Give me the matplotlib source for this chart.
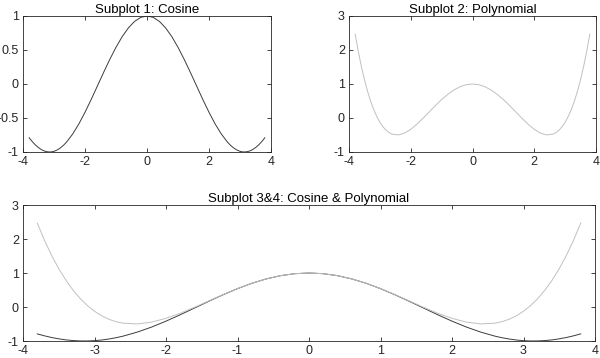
import matplotlib
matplotlib.use("Agg")
import matplotlib.pyplot as plt

# values (finer steps near the ends)
x_vals = [-3.8, -3.7, -3.6, -3.5, -3.4, -3.3, -3.2, -3.1, -3.0, -2.9, -2.8, -2.7, -2.6,
          -2.4, -2.2, -2.0, -1.8, -1.6, -1.4, -1.2, -1.0, -0.8, -0.6, -0.4, -0.2, 0.0,
          0.2, 0.4, 0.6, 0.8, 1.0, 1.2, 1.4, 1.6, 1.8, 2.0, 2.2, 2.4,
          2.6, 2.7, 2.8, 2.9, 3.0, 3.1, 3.2, 3.3, 3.4, 3.5, 3.6, 3.7, 3.8]
cosine_vals = [-0.791, -0.848, -0.897, -0.936, -0.967, -0.987, -0.998, -0.999, -0.990, -0.971, -0.942, -0.904, -0.857,
               -0.737, -0.589, -0.416, -0.227, -0.029, 0.170, 0.362, 0.540, 0.697, 0.825, 0.921, 0.980, 1.000,
               0.980, 0.921, 0.825, 0.697, 0.540, 0.362, 0.170, -0.029, -0.227, -0.416, -0.589, -0.737,
               -0.857, -0.904, -0.942, -0.971, -0.990, -0.999, -0.998, -0.987, -0.967, -0.936, -0.897, -0.848, -0.791]
poly_vals = [2.468, 1.964, 1.518, 1.128, 0.788, 0.496, 0.249, 0.043, -0.125, -0.258, -0.359, -0.431, -0.476,
             -0.498, -0.444, -0.333, -0.183, -0.007, 0.180, 0.366, 0.542, 0.697, 0.825, 0.921, 0.980, 1.000,
             0.980, 0.921, 0.825, 0.697, 0.542, 0.366, 0.180, -0.007, -0.183, -0.333, -0.444, -0.498,
             -0.476, -0.431, -0.359, -0.258, -0.125, 0.043, 0.249, 0.496, 0.788, 1.128, 1.518, 1.964, 2.468]

titles = ["Subplot 1: Cosine", "Subplot 2: Polynomial", "Subplot 3&4: Cosine & Polynomial"]

COS_COLOR = "#3c3c3c"
POLY_COLOR = "#c0c0c0"

plt.rcParams["font.family"] = ["Liberation Sans", "DejaVu Sans"]
plt.rcParams["font.size"] = 9

W, H = 600, 358
fig = plt.figure(figsize=(W / 100, H / 100), dpi=100)


def add_axes(left, top, right, bottom):
    return fig.add_axes([left / W, 1 - bottom / H, (right - left) / W, (bottom - top) / H])


def style(ax, title, yticks, ylabels, xticks):
    ax.set_title(title, fontsize=9.5, pad=2)
    ax.set_xlim(-4, 4)
    ax.set_xticks(xticks)
    ax.set_xticklabels([str(t) for t in xticks])
    ax.set_yticks(yticks)
    ax.set_yticklabels(ylabels)
    ax.tick_params(direction="in", top=True, right=True, length=3, width=0.6,
                   color="#262626", labelcolor="#262626", pad=3)
    for s in ax.spines.values():
        s.set_color("#262626")
        s.set_linewidth(0.6)


ax1 = add_axes(23, 16, 271, 152)
ax1.plot(x_vals, cosine_vals, color=COS_COLOR, lw=0.7)
ax1.set_ylim(-1, 1)
style(ax1, titles[0], [-1, -0.5, 0, 0.5, 1], ["-1", "-0.5", "0", "0.5", "1"], [-4, -2, 0, 2, 4])

ax2 = add_axes(349, 16, 596, 152)
ax2.plot(x_vals, poly_vals, color=POLY_COLOR, lw=0.7)
ax2.set_ylim(-1, 3)
style(ax2, titles[1], [-1, 0, 1, 2, 3], ["-1", "0", "1", "2", "3"], [-4, -2, 0, 2, 4])

ax3 = add_axes(23, 205, 595, 341)
ax3.plot(x_vals, cosine_vals, color=COS_COLOR, lw=0.7)
ax3.plot(x_vals, poly_vals, color=POLY_COLOR, lw=0.7)
ax3.set_ylim(-1, 3)
style(ax3, titles[2], [-1, 0, 1, 2, 3], ["-1", "0", "1", "2", "3"], list(range(-4, 5)))

fig.savefig("out.png", dpi=100)
